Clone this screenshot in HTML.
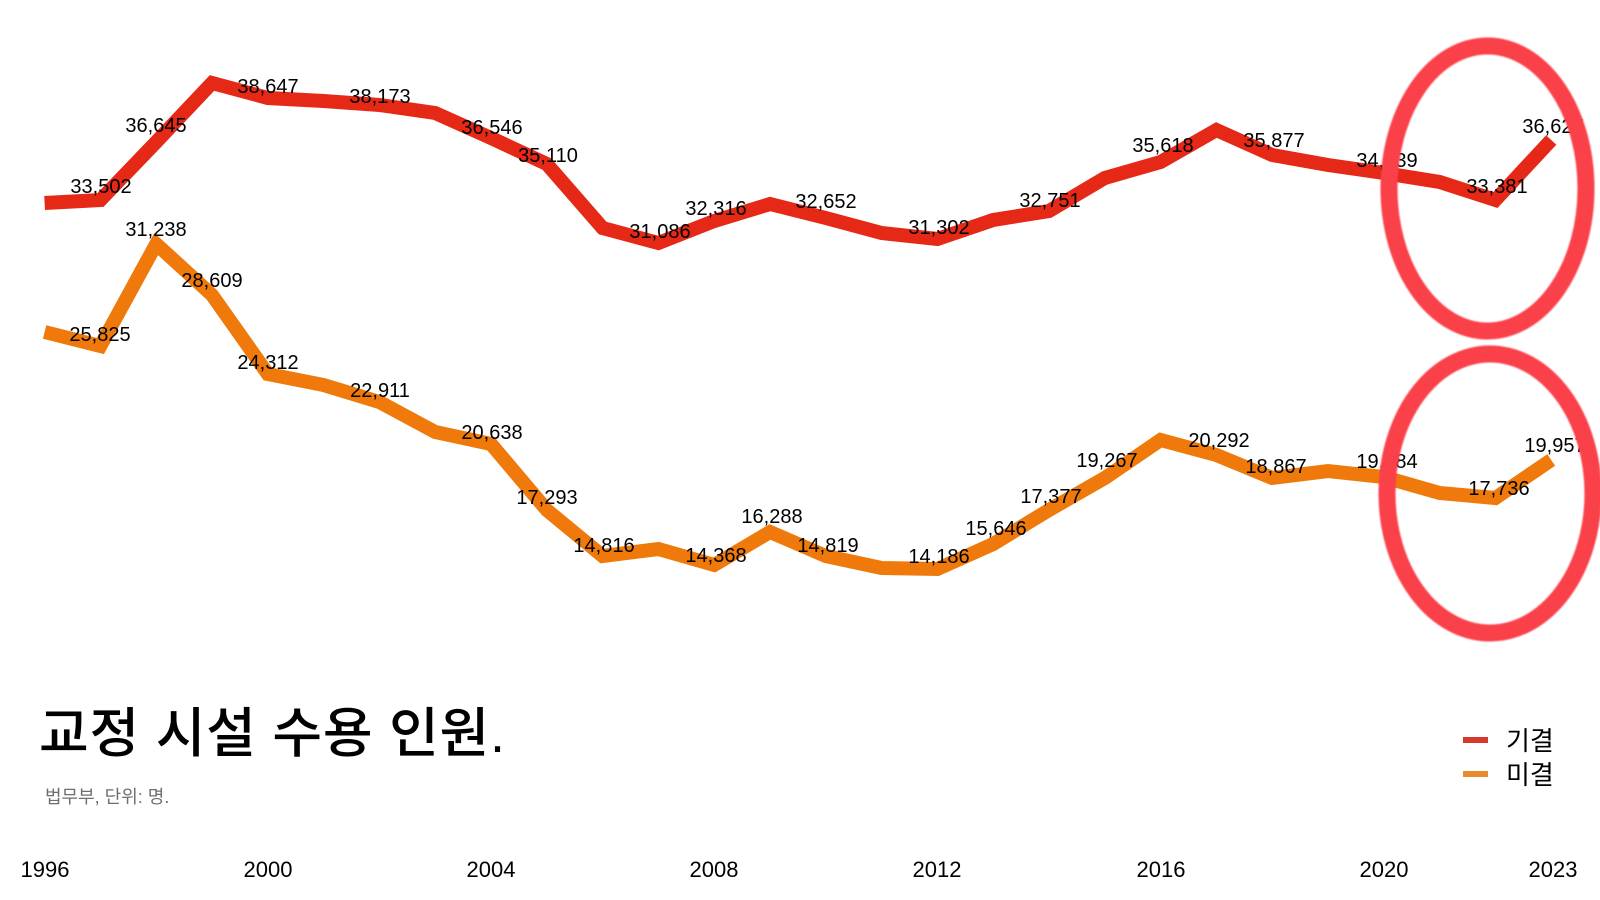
<!DOCTYPE html>
<html>
<head>
<meta charset="utf-8">
<style>
  html, body { margin: 0; padding: 0; background: #ffffff; }
  svg { display: block; }
  .lbl { font-family: "Liberation Sans", Arial, sans-serif; font-size: 20px; fill: #000; text-anchor: middle; }
  .ax { font-family: "Liberation Sans", Arial, sans-serif; font-size: 22px; fill: #000; text-anchor: middle; }
  .kr { font-family: "Liberation Sans", "Noto Sans CJK KR", "NanumGothic", sans-serif; }
</style>
</head>
<body>
<svg width="1600" height="900" viewBox="0 0 1600 900" xmlns="http://www.w3.org/2000/svg">
  <defs>
    <filter id="soft" x="-10%" y="-10%" width="120%" height="120%">
      <feGaussianBlur stdDeviation="0.8"/>
    </filter>
  </defs>
  <rect x="0" y="0" width="1600" height="900" fill="#ffffff"/>

  <!-- 기결 (red) -->
  <polyline fill="none" stroke="#e62817" stroke-width="14" stroke-linejoin="miter" stroke-miterlimit="6" stroke-linecap="butt"
    points="44.6,203 100.4,200 156.2,142 212,83 267.8,98 323.6,101 379.4,105 435.2,113 491,138 546.8,164 602.6,228 658.4,243 714.2,221 770,204 825.8,218 881.6,233 937.4,239 993.2,220 1049,211 1104.8,178 1160.6,162 1216.4,130 1272.2,155 1328,165 1383.8,173 1439.6,182 1495.4,200 1551.2,140"/>

  <!-- 미결 (orange) -->
  <polyline fill="none" stroke="#ef7a0b" stroke-width="14" stroke-linejoin="miter" stroke-miterlimit="6" stroke-linecap="butt"
    points="44.6,332 100.4,346 156.2,244 212,295 267.8,374 323.6,385 379.4,402 435.2,432 491,444 546.8,510 602.6,556 658.4,549 714.2,565 770,532 825.8,556 881.6,568 937.4,569 993.2,544 1049,510 1104.8,478 1160.6,440 1216.4,455 1272.2,478 1328,471 1383.8,477 1439.6,493 1495.4,498 1551.2,460"/>

  <!-- red labels -->
  <text class="lbl" x="101" y="193">33,502</text>
  <text class="lbl" x="156" y="132">36,645</text>
  <text class="lbl" x="268" y="93">38,647</text>
  <text class="lbl" x="380" y="103">38,173</text>
  <text class="lbl" x="492" y="134">36,546</text>
  <text class="lbl" x="548" y="162">35,110</text>
  <text class="lbl" x="660" y="238">31,086</text>
  <text class="lbl" x="716" y="215">32,316</text>
  <text class="lbl" x="826" y="208">32,652</text>
  <text class="lbl" x="939" y="234">31,302</text>
  <text class="lbl" x="1050" y="207">32,751</text>
  <text class="lbl" x="1163" y="152">35,618</text>
  <text class="lbl" x="1274" y="147">35,877</text>
  <text class="lbl" x="1387" y="167">34,739</text>
  <text class="lbl" x="1497" y="193">33,381</text>
  <text class="lbl" x="1553" y="133">36,627</text>

  <!-- orange labels -->
  <text class="lbl" x="156" y="236">31,238</text>
  <text class="lbl" x="100" y="341">25,825</text>
  <text class="lbl" x="212" y="287">28,609</text>
  <text class="lbl" x="268" y="369">24,312</text>
  <text class="lbl" x="380" y="397">22,911</text>
  <text class="lbl" x="492" y="439">20,638</text>
  <text class="lbl" x="547" y="504">17,293</text>
  <text class="lbl" x="604" y="552">14,816</text>
  <text class="lbl" x="716" y="562">14,368</text>
  <text class="lbl" x="772" y="523">16,288</text>
  <text class="lbl" x="828" y="552">14,819</text>
  <text class="lbl" x="939" y="563">14,186</text>
  <text class="lbl" x="996" y="535">15,646</text>
  <text class="lbl" x="1051" y="503">17,377</text>
  <text class="lbl" x="1107" y="467">19,267</text>
  <text class="lbl" x="1219" y="447">20,292</text>
  <text class="lbl" x="1276" y="473">18,867</text>
  <text class="lbl" x="1387" y="468">19,784</text>
  <text class="lbl" x="1499" y="495">17,736</text>
  <text class="lbl" x="1555" y="452">19,957</text>

  <!-- highlight circles -->
  <g filter="url(#soft)">
    <ellipse cx="1487.5" cy="188.5" rx="98.5" ry="142.5" fill="none" stroke="#fa4048" stroke-width="17"/>
    <ellipse cx="1490" cy="493.5" rx="103" ry="139.5" fill="none" stroke="#fa4048" stroke-width="17"/>
  </g>

  <!-- title -->
  <text class="kr" x="39" y="752" font-size="54" font-weight="500" fill="#000" textLength="466" lengthAdjust="spacing">교정 시설 수용 인원.</text>
  <text class="kr" x="45" y="803" font-size="18" fill="#6e6e6e">법무부, 단위: 명.</text>

  <!-- legend -->
  <rect x="1463" y="737" width="25" height="6" fill="#d63a2c"/>
  <rect x="1463" y="771" width="25" height="6" fill="#e88a2e"/>
  <text class="kr" x="1506" y="750" font-size="26" fill="#000">기결</text>
  <text class="kr" x="1506" y="784" font-size="26" fill="#000">미결</text>

  <!-- x axis labels -->
  <text class="ax" x="45" y="877">1996</text>
  <text class="ax" x="268" y="877">2000</text>
  <text class="ax" x="491" y="877">2004</text>
  <text class="ax" x="714" y="877">2008</text>
  <text class="ax" x="937" y="877">2012</text>
  <text class="ax" x="1161" y="877">2016</text>
  <text class="ax" x="1384" y="877">2020</text>
  <text class="ax" x="1553" y="877">2023</text>
</svg>
</body>
</html>
